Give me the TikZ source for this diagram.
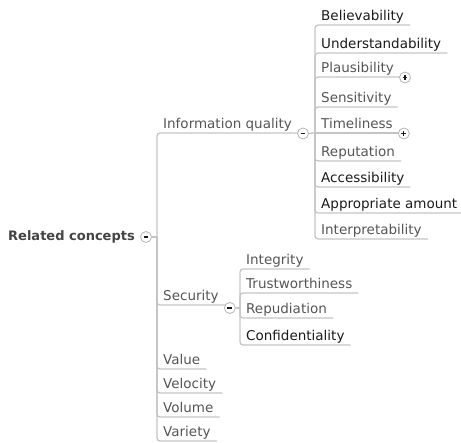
\documentclass[tikz,border=0pt]{standalone}
\usepackage{fontspec}
\setmainfont{DejaVu Sans}
\definecolor{linegray}{HTML}{C4C4C4}
\definecolor{txtgray}{HTML}{555555}
\definecolor{txtdark}{HTML}{1A1A1A}
\definecolor{rootgray}{HTML}{444444}
\definecolor{circgray}{HTML}{B4B4B4}
\begin{document}
\begin{tikzpicture}[x=1pt,y=-1pt,
  conn/.style={draw=linegray, line width=1.3pt, rounded corners=3pt},
  topic/.style={anchor=south west, inner xsep=6pt, inner ysep=0pt, text height=9.5pt, text depth=4.5pt,
    font=\fontsize{13.5}{15}\selectfont, text=txtgray},
  dark/.style={text=txtdark},
  toggle/.style={circle, draw=circgray, fill=white, line width=0.8pt, minimum size=11pt, inner sep=0pt},
  minus/.style={toggle, path picture={\draw[line width=1.1pt, txtdark] ([xshift=-2.4pt]path picture bounding box.center) -- ([xshift=2.4pt]path picture bounding box.center);}},
  plus/.style={toggle, path picture={
    \draw[line width=1.1pt, txtdark] ([xshift=-2.4pt]path picture bounding box.center) -- ([xshift=2.4pt]path picture bounding box.center);
    \draw[line width=1.1pt, txtdark] ([yshift=-2.4pt]path picture bounding box.center) -- ([yshift=2.4pt]path picture bounding box.center);}},
]
\useasboundingbox (0,0) rectangle (461,443);

% root
\node[anchor=base west, inner sep=0pt, font=\bfseries\fontsize{13}{15}\selectfont, text=rootgray] (root) at (8,241) {Related concepts};
\node[minus] (rootT) at (146,237) {};
\coordinate (J0) at (157,237);
\draw[conn] (rootT) -- (J0);

% Information quality
\node[topic] (iq) at (157,133) {Information quality};
\draw[conn] (J0) |- (iq.south east);
\node[minus] (iqT) at ([xshift=5pt,yshift=-0.5pt]iq.south east) {};
\coordinate (J1) at (315,133);
\draw[conn] (iqT) -- (J1);

\node[topic, dark] (bel) at (315,25) {Believability};
\node[topic, dark] (und) at (315,53) {Understandability};
\node[topic] (pla) at (315,77) {Plausibility};
\node[topic] (sen) at (315,107) {Sensitivity};
\node[topic] (tim) at (315,133) {Timeliness};
\node[topic] (rep) at (315,161) {Reputation};
\node[topic, dark] (acc) at (315,187) {Accessibility};
\node[topic, dark] (app) at (315,213) {Appropriate amount};
\node[topic] (itp) at (315,239) {Interpretability};
\foreach \n in {bel,und,pla,sen,rep,acc,app,itp}{\draw[conn] (J1) |- (\n.south east);}
\draw[conn] (J1) -- (tim.south east);
\node[plus] (plaT) at ([xshift=5pt,yshift=-0.5pt]pla.south east) {};
\node[plus] (timT) at ([xshift=5pt,yshift=-0.5pt]tim.south east) {};

% Security
\node[topic] (sec) at (157,305) {Security};
\draw[conn] (J0) |- (sec.south east);
\node[minus] (secT) at ([xshift=5pt,yshift=-3pt]sec.south east) {};
\coordinate (J2) at (240,308);
\draw[conn] (secT) -- (J2);
\node[topic] (itg) at (240,269) {Integrity};
\node[topic] (tru) at (240,293) {Trustworthiness};
\node[topic] (rpd) at (240,318) {Repudiation};
\node[topic, dark] (con) at (240,345) {Confidentiality};
\foreach \n in {itg,tru,rpd,con}{\draw[conn] (J2) |- (\n.south east);}

% other root children
\node[topic] (val) at (157,369) {Value};
\node[topic] (vel) at (157,393) {Velocity};
\node[topic] (vol) at (157,417) {Volume};
\node[topic] (var) at (157,441) {Variety};
\foreach \n in {val,vel,vol,var}{\draw[conn] (J0) |- (\n.south east);}
\end{tikzpicture}
\end{document}
